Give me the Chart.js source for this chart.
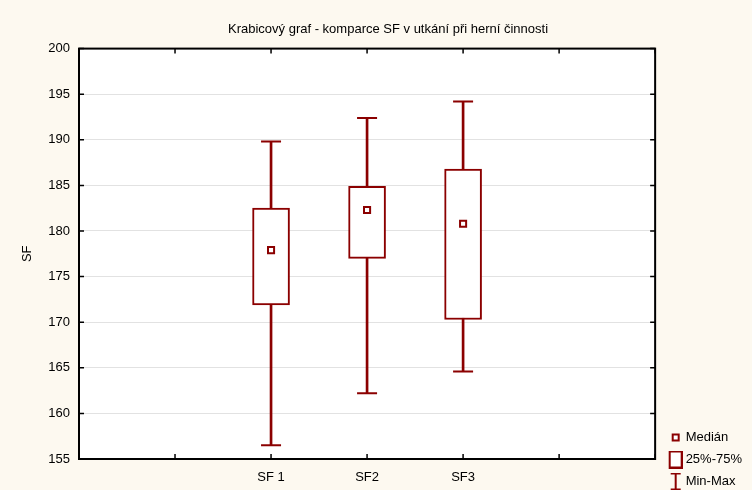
<!DOCTYPE html>
<html>
<head>
<meta charset="utf-8">
<script src="https://cdn.jsdelivr.net/npm/chart.js@4.4.1/dist/chart.umd.min.js"></script>
<style>
  html, body { margin: 0; padding: 0; background: #fdf9f0; }
</style>
</head>
<body>
<canvas id="chart" width="752" height="490"></canvas>
<script>
// osa x: 7 pozic, skupiny SF jsou na pozicich 2-4
const categories = ["", "", "SF 1", "SF2", "SF3", "", ""];
const groups = ["SF 1", "SF2", "SF3"];
const minValues = [156.5, 162.2, 164.6];
const q1Values = [171.9, 177.0, 170.3];
const medianValues = [177.9, 182.3, 180.8];
const q3Values = [182.5, 184.9, 186.8];
const maxValues = [189.8, 192.4, 194.2];
const yTicks = [155, 160, 165, 170, 175, 180, 185, 190, 195, 200];

const RED = "#8b0000";
const FONT = "'Liberation Sans', Arial, sans-serif";

// ikonky do legendy (kresleno posunute doprava)
function makeIcon(h, draw) {
    const c = document.createElement("canvas");
    c.width = 22;
    c.height = h;
    const g = c.getContext("2d");
    g.strokeStyle = RED;
    g.fillStyle = "#fff";
    g.translate(8, 0);
    draw(g);
    return c;
}
const medianIcon = makeIcon(14, g => {
    g.lineWidth = 2;
    g.fillRect(4, 4, 6, 6);
    g.strokeRect(4, 4, 6, 6);
});
const boxIcon = makeIcon(18, g => {
    g.lineWidth = 2;
    g.fillRect(1, 1, 12, 16);
    g.strokeRect(1, 1, 12, 16);
});
const rangeIcon = makeIcon(18, g => {
    g.lineWidth = 2;
    g.beginPath();
    g.moveTo(2, 1); g.lineTo(12, 1);
    g.moveTo(7, 1); g.lineTo(7, 17);
    g.moveTo(2, 17); g.lineTo(12, 17);
    g.stroke();
});

const framePlugin = {
    id: "frame",
    afterLayout(chart) {
        // legenda ma byt az u spodniho okraje
        chart.legend.top += 7;
        chart.legend.bottom += 7;
    },
    beforeDraw(chart) {
        const { ctx, chartArea: a } = chart;
        ctx.save();
        ctx.fillStyle = "#fdf9f0";
        ctx.fillRect(0, 0, chart.width, chart.height);
        ctx.fillStyle = "#fff";
        ctx.fillRect(a.left, a.top, a.right - a.left, a.bottom - a.top);
        ctx.restore();
    },
    afterDraw(chart) {
        const { ctx, chartArea: a, scales: { x, y } } = chart;
        ctx.save();
        ctx.strokeStyle = "#000";
        ctx.lineWidth = 1.5;
        ctx.beginPath();
        y.ticks.forEach((t, i) => {
            const py = y.getPixelForTick(i);
            ctx.moveTo(a.left, py); ctx.lineTo(a.left + 5, py);
            ctx.moveTo(a.right, py); ctx.lineTo(a.right - 5, py);
        });
        x.ticks.forEach((t, i) => {
            const px = x.getPixelForTick(i);
            ctx.moveTo(px, a.bottom); ctx.lineTo(px, a.bottom - 5);
            ctx.moveTo(px, a.top); ctx.lineTo(px, a.top + 5);
        });
        ctx.stroke();
        ctx.lineWidth = 2;
        ctx.strokeRect(a.left, a.top, a.right - a.left, a.bottom - a.top);
        ctx.restore();
    }
};

new Chart(document.getElementById("chart"), {
    type: "bar",
    data: {
        labels: categories,
        datasets: [
            {
                type: "line",
                label: "Medián",
                data: groups.map((g, i) => ({ x: g, y: medianValues[i] })),
                showLine: false,
                pointStyle: "rect",
                pointRadius: 4.3,
                borderWidth: 2,
                borderColor: RED,
                backgroundColor: "#fff"
            },
            {
                type: "line",
                label: "max",
                data: groups.map((g, i) => ({ x: g, y: maxValues[i] })),
                showLine: false,
                pointStyle: "line",
                pointRadius: 10,
                borderWidth: 2,
                borderColor: RED
            },
            {
                type: "line",
                label: "min",
                data: groups.map((g, i) => ({ x: g, y: minValues[i] })),
                showLine: false,
                pointStyle: "line",
                pointRadius: 10,
                borderWidth: 2,
                borderColor: RED
            },
            {
                label: "25%-75%",
                data: groups.map((g, i) => ({ x: g, y: [q1Values[i], q3Values[i]] })),
                backgroundColor: "#fff",
                borderColor: RED,
                borderWidth: 2,
                borderSkipped: false,
                barThickness: 37,
                grouped: false
            },
            {
                label: "Min-Max",
                data: groups.map((g, i) => ({ x: g, y: [minValues[i], maxValues[i]] })),
                backgroundColor: RED,
                borderWidth: 0,
                barThickness: 2,
                grouped: false
            }
        ]
    },
    options: {
        responsive: false,
        animation: false,
        events: [],
        layout: { padding: { left: 24, right: 0, top: 0, bottom: 0 } },
        scales: {
            x: {
                offset: false,
                grid: { display: false, drawTicks: false },
                border: { display: false },
                ticks: { color: "#000", padding: 11, font: { family: FONT, size: 13 }, autoSkip: false, maxRotation: 0 },
                afterFit(s) { s.height = 31; }
            },
            y: {
                min: 155,
                max: 200,
                afterBuildTicks(s) { s.ticks = yTicks.map(v => ({ value: v })); },
                grid: { color: "#e2e2e2", lineWidth: 1, drawTicks: false },
                border: { display: false },
                ticks: { color: "#000", padding: 9, font: { family: FONT, size: 13 } },
                title: { display: true, text: "SF", color: "#000", font: { family: FONT, size: 13 }, padding: { top: -4, bottom: 0 } },
                afterFit(s) { s.width = 55; }
            }
        },
        plugins: {
            title: {
                display: true,
                text: "Krabicový graf - komparce SF v utkání při herní činnosti",
                color: "#000",
                font: { family: FONT, size: 13, weight: "normal" },
                padding: { top: 22, bottom: 11 }
            },
            legend: {
                position: "right",
                align: "end",
                onClick: null,
                labels: {
                    usePointStyle: true,
                    pointStyleWidth: 15,
                    color: "#000",
                    padding: 9,
                    font: { family: FONT, size: 13 },
                    generateLabels() {
                        return [
                            { text: "Medián", pointStyle: medianIcon, fillStyle: "#fff", strokeStyle: RED, lineWidth: 0, hidden: false },
                            { text: "25%-75%", pointStyle: boxIcon, fillStyle: "#fff", strokeStyle: RED, lineWidth: 0, hidden: false },
                            { text: "Min-Max", pointStyle: rangeIcon, fillStyle: "#fff", strokeStyle: RED, lineWidth: 0, hidden: false }
                        ];
                    }
                }
            },
            tooltip: { enabled: false }
        }
    },
    plugins: [framePlugin]
});
</script>
</body>
</html>
